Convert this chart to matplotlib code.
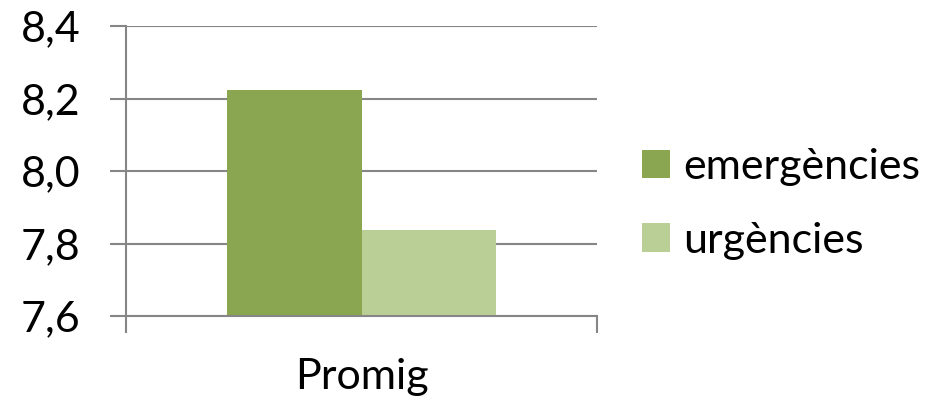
import matplotlib
matplotlib.use("Agg")
import matplotlib.pyplot as plt
import numpy as np

# data
category = ["Promig"]
series = ["emergències", "urgències"]
values = [8.223, 7.837]
colors = ["#8AA650", "#BACF96"]
yticks = [7.6, 7.8, 8.0, 8.2, 8.4]
ytick_labels = ["7,6", "7,8", "8,0", "8,2", "8,4"]

plt.rcParams['font.family'] = ['Lato', 'DejaVu Sans']
grey = "#868686"

fig = plt.figure(figsize=(9.37, 4.03), dpi=100)
ax = fig.add_axes([126 / 937, 87 / 403, 471 / 937, 290 / 403])

x = np.arange(len(category))
w = 0.57
ax.bar(x - w, [values[0]], width=w, align='edge', color=colors[0], label=series[0], zorder=3)
ax.bar(x, [values[1]], width=w, align='edge', color=colors[1], label=series[1], zorder=3)

ax.set_xlim(-1, 1)
ax.set_ylim(7.6, 8.4)
ax.set_yticks(yticks)
ax.set_yticklabels(ytick_labels, fontsize=31)
ax.set_xticks(x)
ax.set_xticklabels(category, fontsize=31)
ax.set_xticks([-1, 1], minor=True)

ax.yaxis.grid(True, color=grey, linewidth=1.5, zorder=0)
ax.tick_params(axis='y', length=11.5, width=1.5, color=grey, pad=21)
ax.tick_params(axis='x', which='major', length=0, pad=30)
ax.tick_params(axis='x', which='minor', length=12, width=1.5, color=grey)

for s in ['top', 'right']:
    ax.spines[s].set_visible(False)
ax.spines['left'].set_color(grey)
ax.spines['left'].set_linewidth(1.5)
ax.spines['bottom'].set_color(grey)
ax.spines['bottom'].set_linewidth(1.5)
ax.spines['bottom'].set_zorder(4)

ax.legend(loc='center left', bbox_to_anchor=(642 / 937, 0.494),
          bbox_transform=fig.transFigure, frameon=False,
          fontsize=31, handlelength=0.65, handleheight=0.65,
          handletextpad=0.3, labelspacing=0.83, borderpad=0, borderaxespad=0)

fig.savefig("out.png", dpi=100)
